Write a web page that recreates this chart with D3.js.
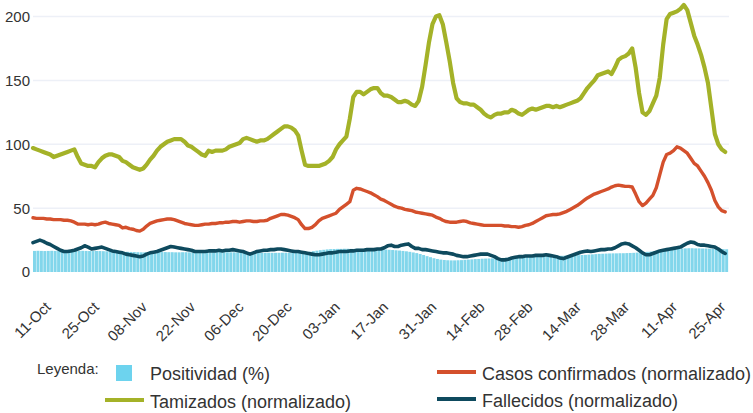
<!DOCTYPE html>
<html lang="es">
<head>
<meta charset="UTF-8">
<title>Positividad, tamizados, casos y fallecidos</title>
<style>
  body { margin: 0; background: #fff; }
  svg { font-family: "Liberation Sans", Arial, sans-serif; }
  .grid line { stroke: #edf0f7; stroke-width: 1.5px; }
  .tick-y { font-size: 15px; fill: #333; text-anchor: end; }
  .x-axis text { font-size: 15px; fill: #333; }
  .legend-title { font-size: 15px; fill: #333; }
  .legend-label { font-size: 18px; fill: #333; }
</style>
</head>
<body>
<script src="https://cdn.jsdelivr.net/npm/d3@7"></script>
<script>
// daily series, 06-Oct-2020 .. 25-Apr-2021
const positividad = [
  16.5,16.6,16.5,16.4,16.5,16.6,16.5,16.4,16.5,16.5, 16.6,16.5,16.4,16.5,16.6,16.5,16.4,16.4,16.5,16.4,
  16.3,16.2,16.2,16.1,16.0,15.9,15.8,15.8,15.7,15.6, 15.5,15.4,15.4,15.3,15.4,15.5,15.5,15.6,15.6,15.5,
  15.5,15.4,15.4,15.5,15.5,15.4,15.4,15.5,15.5,15.6, 15.6,15.5,15.5,15.6,15.6,15.5,15.5,15.4,15.4,15.3,
  15.3,15.2,15.2,15.1,15.1,15.0,15.0,15.1,15.1,15.0, 15.0,15.0,15.1,15.1,15.0,15.0,15.1,15.2,15.4,15.6,
  15.9,16.3,16.7,17.1,17.4,17.7,17.9,18.0,18.1,18.1, 18.2,18.2,18.1,18.1,18.2,18.2,18.1,18.0,18.0,17.9,
  17.9,17.8,17.6,17.4,17.2,17.0,16.8,16.5,16.2,15.8, 15.3,14.8,14.1,13.3,12.4,11.6,10.8,10.2, 9.7, 9.4,
   9.2, 9.1, 9.1, 9.2, 9.3, 9.5, 9.7, 9.9,10.1,10.2, 10.4,10.5,10.6,10.7,10.8,10.9,11.0,11.1,11.2,11.3,
  11.4,11.5,11.6,11.7,11.8,11.9,12.0,12.1,12.2,12.3, 12.4,12.5,12.6,12.7,12.8,12.9,13.0,13.1,13.2,13.3,
  13.4,13.6,13.8,14.0,14.2,14.3,14.4,14.5,14.6,14.6, 14.7,14.7,14.8,14.9,15.0,15.2,15.4,15.6,15.8,16.0,
  16.3,16.6,16.9,17.2,17.5,17.8,18.0,18.2,18.4,18.5, 18.6,18.6,18.5,18.5,18.4,18.4,18.3,18.2,18.1,18.0,
  17.9,17.8
];

const tamizados = [
   97, 96, 95, 94, 93, 92, 90, 91, 92, 93,  94, 95, 96, 90, 85, 84, 83, 83, 82, 86,
   89, 91, 92, 92, 91, 90, 87, 86, 84, 82,  81, 80, 81, 84, 88, 91, 95, 98,100,102,
  103,104,104,104,102, 99, 98, 96, 94, 92,  91, 95, 94, 95, 95, 95, 96, 98, 99,100,
  101,104,105,104,103,102,103,103,104,106, 108,110,112,114,114,113,111,107, 95, 84,
   83, 83, 83, 83, 84, 85, 87, 90, 96,100, 103,106,120,137,141,141,139,141,143,144,
  144,140,138,138,137,135,133,133,134,133, 131,130,134,145,162,180,194,200,201,194,
  180,165,148,136,133,132,132,131,131,129, 127,124,122,121,123,124,124,125,125,127,
  126,124,123,125,127,128,127,128,129,130, 130,129,130,129,130,131,132,133,134,136,
  140,144,147,150,154,155,156,157,155,160, 166,168,169,171,175,160,140,125,123,126,
  132,138,152,178,198,202,203,204,206,209, 205,195,185,178,170,160,148,128,108,100,
   96, 94
];

const casos = [
  42.5,42,42,42,41.5,41.5,41,41,41,40.5, 40.5,40,39,37.5,37.5,37.5,37,37.5,37,37.5,
  38.5,39,38,37.5,37,36.5,34.5,35,34,33.5, 32.5,32,33.5,36,38,39,40,40.5,41,41.5,
  41.5,41,40,39,38,37.5,37,36.5,36.5,37, 37.5,37.5,38,38,38.5,38.5,39,39,39.5,39.5,
  39,39.5,40,40,39.5,39.5,40,40,40.5,42, 43,44,45,45,44.5,43.5,42.5,41,37,34,
  34,35,37,40,42,43,44,45,46,49, 51,53,55,64,65.5,65,64,63,62,60.5,
  59,57,56,54.5,53,51.5,50.5,50,49,48.5, 48,47,46.5,46,45.5,45,44.5,43,42,40.5,
  39.5,39,39,39,39.5,40,39.5,38.5,38,37.5, 37,36.5,36.5,36.5,36.5,36.5,36.5,36,36,35.5,
  35.5,35,35.5,36.5,37,38,39.5,41,42.5,44, 44.5,45,45,45.5,46.5,47.5,49,50.5,52,54,
  56,58,59.5,61,62,63,64,65,66.5,67.5, 68,67.5,67,67,66.5,61,55,52,54,57,
  60,66,76,86,92,93,95,98,97,95, 93,89,85,83,79,75,70,64,56,51,
  48,47
];

const fallecidos = [
  23,24,25,24,22.5,21.5,20,18.5,17,16, 16,16.5,17,18,19,20.5,19.5,18,18.5,19,
  19.5,18.5,17.5,16.5,16,15.5,15,14,13.5,13, 12.5,12,12.5,14,15,15.5,16,17,18,19,
  20,19.5,19,18.5,18,17.5,17,16,16,16, 16,16.5,16.5,16.5,17,16.5,17,17,17.5,17,
  16.5,16,15,14,15,16,16.5,17,17,17.5, 17.5,18,18,17.5,17,16.5,16,16,15.5,15,
  14.5,14,13.5,13.5,14,14.5,15,15,15.5,16, 16,16,16.5,16.5,17,17,17,17.5,17.5,17.5,
  18,18,19,20.5,21,20,20,21,21.5,22, 20,18.5,18.5,17.5,17.5,17,16.5,16,15.5,15,
  15,14.5,14,13,12.5,12,12,12.5,13,13.5, 14,14,14,13,12,10.5,9.5,9.5,10,11,
  11.5,12,12,12.5,12.5,12.5,13,13,13,13.5, 13,12.5,12,11,10.5,11.5,12.5,13.5,14.5,15.5,
  16,16.5,16,16.5,17,17.5,17.5,18,18,19, 20.5,22,22.5,22,20.5,19,17,15,13.5,13.5,
  14.5,15.5,16.5,17,17.5,18,18.5,19,19.5,21, 22.5,23.5,23,21.5,21,21,20.5,20,19.5,18,
  16,14.5
];

const tickLabels = ["11-Oct", "25-Oct", "08-Nov", "22-Nov", "06-Dec", "20-Dec", "03-Jan",
  "17-Jan", "31-Jan", "14-Feb", "28-Feb", "14-Mar", "28-Mar", "11-Apr", "25-Apr"];
const yTicks = [0, 50, 100, 150, 200];

const width = 753, height = 413;
const plotLeft = 33, plotRight = 728, plotTop = 16.5, plotBottom = 272;

const fmt = d3.timeFormat("%d-%b");
const days = d3.timeDay.range(new Date(2020, 9, 6), new Date(2021, 3, 26));
const keys = days.map(fmt);

const x = d3.scaleBand().domain(keys).range([plotLeft, plotRight]).paddingInner(0.18).paddingOuter(0);
const step = x.step();
const y = d3.scaleLinear().domain([0, 200]).range([plotBottom, plotTop]);

const svg = d3.select("body").append("svg")
  .attr("width", width)
  .attr("height", height);

// grid
svg.append("g").attr("class", "grid")
  .selectAll("line")
  .data(yTicks.filter(v => v > 0))
  .enter().append("line")
  .attr("x1", plotLeft).attr("x2", plotRight + 1)
  .attr("y1", d => y(d)).attr("y2", d => y(d));

// y labels
svg.append("g")
  .selectAll("text")
  .data(yTicks)
  .enter().append("text")
  .attr("class", "tick-y")
  .attr("x", 30)
  .attr("y", d => y(d))
  .attr("dy", "0.36em")
  .text(d => d);

// positividad bars
svg.append("g")
  .selectAll("rect")
  .data(positividad)
  .enter().append("rect")
  .attr("x", (d, i) => x(keys[i]))
  .attr("width", step * 0.86)
  .attr("y", d => y(d))
  .attr("height", d => plotBottom - y(d))
  .attr("fill", "#82d6eb");

// lines, drawn at the left edge of each day
const line = d3.line()
  .x((d, i) => x(keys[i]))
  .y(d => y(d));

const series = [
  { values: fallecidos, color: "#0e4a5e", w: 3.6 },
  { values: casos, color: "#d4502c", w: 3.4 },
  { values: tamizados, color: "#a4b228", w: 4.2 }
];

svg.append("g")
  .selectAll("path")
  .data(series)
  .enter().append("path")
  .attr("fill", "none")
  .attr("stroke", d => d.color)
  .attr("stroke-width", d => d.w)
  .attr("stroke-linejoin", "round")
  .attr("stroke-linecap", "round")
  .attr("d", d => line(d.values));

// x axis
const xAxis = svg.append("g")
  .attr("class", "x-axis")
  .attr("transform", `translate(0,${plotBottom})`)
  .call(d3.axisBottom(x).tickValues(tickLabels).tickSize(0));
xAxis.select(".domain").remove();
xAxis.selectAll("text")
  .attr("y", 0)
  .attr("dy", null)
  .attr("text-anchor", "end")
  .attr("transform", "translate(0,36) rotate(-45)");

// legend
const legend = svg.append("g");
legend.append("text").attr("class", "legend-title").attr("x", 37).attr("y", 374).text("Leyenda:");

legend.append("rect").attr("x", 116).attr("y", 365).attr("width", 16).attr("height", 16)
  .attr("fill", "#6dd3ee");
legend.append("text").attr("class", "legend-label").attr("x", 150).attr("y", 380).text("Positividad (%)");

const lineItems = [
  { label: "Tamizados (normalizado)", color: "#a4b228", x: 105, y: 400 },
  { label: "Casos confirmados (normalizado)", color: "#d4502c", x: 437, y: 372 },
  { label: "Fallecidos (normalizado)", color: "#0e4a5e", x: 437, y: 399 }
];

const li = legend.selectAll("g.item")
  .data(lineItems)
  .enter().append("g").attr("class", "item");
li.append("line")
  .attr("x1", d => d.x).attr("x2", d => d.x + 39)
  .attr("y1", d => d.y).attr("y2", d => d.y)
  .attr("stroke", d => d.color)
  .attr("stroke-width", 4);
li.append("text").attr("class", "legend-label")
  .attr("x", d => d.x + 45)
  .attr("y", d => d.y + 8)
  .text(d => d.label);
</script>
</body>
</html>
